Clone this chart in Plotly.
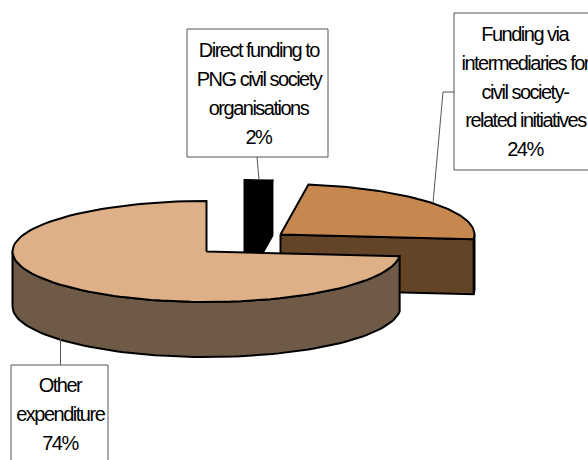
import numpy as np
import plotly.graph_objects as go

# Data
categories = ["Direct funding to PNG civil society organisations",
              "Funding via intermediaries for civil society-related initiatives",
              "Other expenditure"]
values = [2.3, 24.2, 73.5]
label_lines = [["Direct funding to", "PNG civil society", "organisations"],
               ["Funding via", "intermediaries for", "civil society-", "related initiatives"],
               ["Other", "expenditure"]]

# Styles / layout (pixel canvas)
top_colors = ["#000000", "#C6884E", "#DEB088"]
side_colors = ["#000000", "#644427", "#6E5A46"]
CX, CY, RX, RY, DEPTH = 206.5, 251.5, 194, 50.5, 55
offsets = [(38, -21), (74, -17), (0, 0)]
boxes = [(187, 29, 328, 157), (454, 13, 600, 170), (11, 365, 108, 480)]
text_pos = [(258.5, 50, 29), (525, 34, 28.8), (60, 385, 29)]
leaders = [([257, 259], [157, 180]), ([454, 443, 433], [92, 92, 203]), ([60.5, 60.5], [365, 338])]

fig = go.Figure()
OUT = dict(color="black", width=2)


def poly(xs, ys, color):
    fig.add_trace(go.Scatter(x=xs, y=ys, mode="lines", fill="toself", fillcolor=color,
                             line=OUT, hoverinfo="skip", showlegend=False))


def rim(a0, a1, ox, oy):
    t = np.radians(np.linspace(a0, a1, 90))
    return CX + ox + RX * np.sin(t), CY + oy - RY * np.cos(t)


angles = np.cumsum([0] + values) / sum(values) * 360
for i in range(len(values)):
    a0, a1 = angles[i], angles[i + 1]
    ox, oy = offsets[i]
    ax, ay = CX + ox, CY + oy
    # outer wall (front-facing part of the rim)
    lo, hi = max(a0, 90), min(a1, 270)
    if hi > lo:
        x, y = rim(lo, hi, ox, oy)
        poly(np.r_[x, x[::-1], x[0]], np.r_[y, y[::-1] + DEPTH, y[0]], side_colors[i])
    # cut wall facing the viewer
    if a1 < 180:
        ex, ey = rim(a1, a1, ox, oy)
        poly([ax, ex[0], ex[0], ax, ax], [ay, ey[0], ey[0] + DEPTH, ay + DEPTH, ay], side_colors[i])
    # top face
    x, y = rim(a0, a1, ox, oy)
    poly(np.r_[ax, x, ax], np.r_[ay, y, ay], top_colors[i])

# Leader lines
for lx, ly in leaders:
    fig.add_trace(go.Scatter(x=lx, y=ly, mode="lines", line=dict(color="#555555", width=1),
                             hoverinfo="skip", showlegend=False))

# Label boxes
for (x0, y0, x1, y1) in boxes:
    fig.add_shape(type="rect", x0=x0, y0=y0, x1=x1, y1=y1, fillcolor="white",
                  line=dict(color="#555555", width=1), layer="above")

# Label text
for lines, v, (tx, ty, step) in zip(label_lines, values, text_pos):
    for j, s in enumerate(lines + [f"{round(v)}%"]):
        fig.add_annotation(x=tx, y=ty + j * step, text=s, showarrow=False, xanchor="center",
                           yanchor="middle", font=dict(family="Liberation Sans", size=20, color="black"))

fig.update_layout(width=588, height=460, margin=dict(l=0, r=0, t=0, b=0), autosize=False,
                  plot_bgcolor="white", paper_bgcolor="white", showlegend=False,
                  xaxis=dict(range=[0, 588], visible=False, fixedrange=True),
                  yaxis=dict(range=[460, 0], visible=False, fixedrange=True))
fig.write_html("out.html", config=dict(displayModeBar=False),
               post_script="document.body.style.margin='0';"
                           "document.querySelectorAll('.annotation-text').forEach(function(t){"
                           "t.style.letterSpacing='-1.5px';});")
